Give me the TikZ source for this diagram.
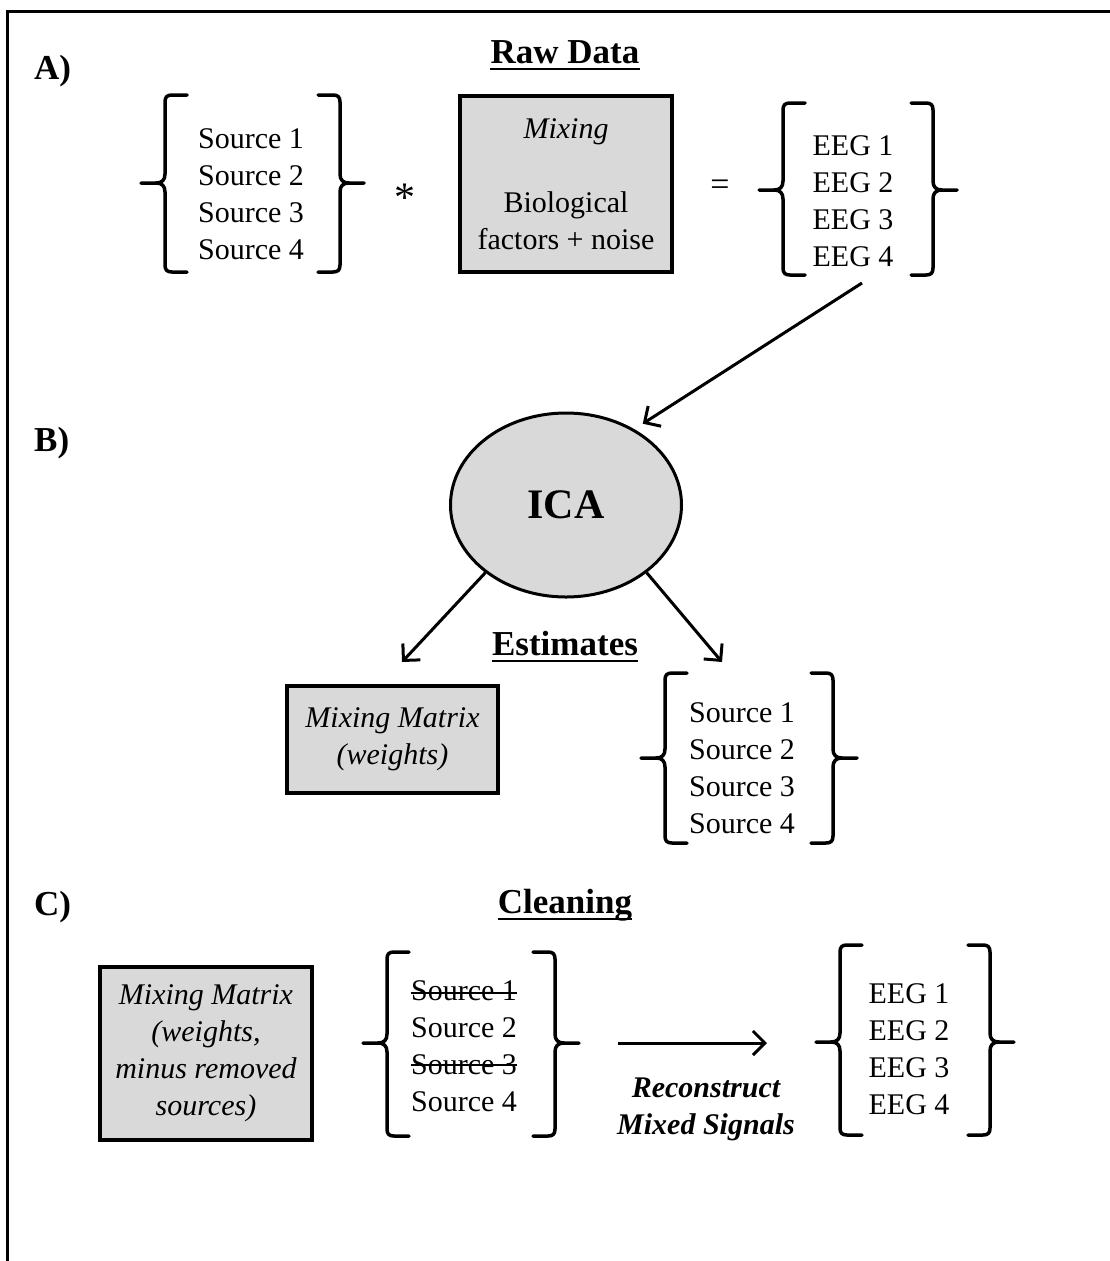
\documentclass[tikz,border=0pt]{standalone}
\usepackage{fontspec}
\setmainfont{Liberation Serif}
\usetikzlibrary{shapes.geometric,arrows.meta}
\definecolor{boxgray}{RGB}{217,217,217}
% #1 left x, #2 right x, #3 top y, #4 bottom y, #5 middle y
\newcommand{\brackpair}[5]{%
 \draw[brk] ({#1+22},#3) -- ({#1+7},#3) .. controls ({#1+2},#3) and (#1,{#3+2}) .. (#1,{#3+7}) -- (#1,{#5-9}) .. controls (#1,{#5-3}) and ({#1-3},#5) .. ({#1-9},#5) -- ({#1-24},#5);
 \draw[brk] ({#1-9},#5) .. controls ({#1-3},#5) and (#1,{#5+3}) .. (#1,{#5+9}) -- (#1,{#4-7}) .. controls (#1,{#4-2}) and ({#1+2},#4) .. ({#1+7},#4) -- ({#1+22},#4);
 \draw[brk] ({#2-22},#3) -- ({#2-7},#3) .. controls ({#2-2},#3) and (#2,{#3+2}) .. (#2,{#3+7}) -- (#2,{#5-9}) .. controls (#2,{#5-3}) and ({#2+3},#5) .. ({#2+9},#5) -- ({#2+24},#5);
 \draw[brk] ({#2+9},#5) .. controls ({#2+3},#5) and (#2,{#5+3}) .. (#2,{#5+9}) -- (#2,{#4-7}) .. controls (#2,{#4-2}) and ({#2-2},#4) .. ({#2-7},#4) -- ({#2-22},#4);
}
\begin{document}
\begin{tikzpicture}[x=1pt,y=-1pt,
  lst/.style={align=center,font=\fontsize{30}{37}\selectfont,inner sep=0pt},
  box/.style={draw,line width=3.2pt,fill=boxgray,align=center,font=\fontsize{30}{37}\selectfont,inner sep=0pt},
  ttl/.style={font=\fontsize{35}{40}\selectfont\bfseries,inner sep=0pt,anchor=base},
  lbl/.style={font=\fontsize{35}{40}\selectfont\bfseries,inner sep=0pt,anchor=base west},
  sym/.style={font=\fontsize{30}{37}\selectfont,inner sep=0pt},
  brk/.style={line width=3.5pt,line cap=round,line join=round},
  arr/.style={line width=3pt,-{Straight Barb[length=12pt,width=24pt]}},
  uln/.style={line width=2.5pt},
  strk/.style={line width=1.6pt}]
\useasboundingbox (0,0) rectangle (1110,1261);
\draw[line width=3pt] (1110,11) -- (7.5,11) -- (7.5,1261);

% labels
\node[lbl] (la) at (34,79) {A)};
\node[lbl] (lb) at (34,451) {B)};
\node[lbl] (lc) at (34,915) {C)};

% A) Raw data
\node[ttl] (raw) at (565,63) {Raw Data};
\draw[uln] ([yshift=-6pt]raw.base west) -- ([yshift=-6pt]raw.base east);
\node[lst] (srcA) at (251,194) {Source 1\\Source 2\\Source 3\\Source 4};
\brackpair{165}{340}{95}{272}{183}
\node[sym,font=\fontsize{42}{48}\selectfont] (ast) at (405,198) {*};
\node[box,minimum width=212,minimum height=176] (mixA) at (566,184) {\textit{Mixing}\\[37pt]Biological\\factors + noise};
\node[sym,font=\fontsize{34}{40}\selectfont] (eq) at (720,188) {=};
\node[lst] (eegA) at (853,201) {EEG 1\\EEG 2\\EEG 3\\EEG 4};
\brackpair{783}{933}{103}{275}{190}

% B) ICA
\node[draw,line width=3pt,fill=boxgray,ellipse,minimum width=231,minimum height=184,inner sep=0pt,font=\fontsize{42}{48}\selectfont\bfseries] (ica) at (566,505) {ICA};
\coordinate (eegAout) at (862,283);
\draw[arr,shorten >=10pt] (eegAout) -- (ica.48);
\node[ttl] (est) at (565,655) {Estimates};
\draw[uln] ([yshift=-6pt]est.base west) -- ([yshift=-6pt]est.base east);
\node[box,minimum width=211,minimum height=107] (mmB) at (392.5,739.5) {\textit{Mixing Matrix}\\\textit{(weights)}};
\node[lst] (srcB) at (742,768) {Source 1\\Source 2\\Source 3\\Source 4};
\brackpair{665}{833}{673}{843}{758}
\coordinate (tipB1) at (402,662);
\coordinate (tipB2) at (722,662);
\draw[arr] (ica.220) -- (tipB1);
\draw[arr] (ica.320) -- (tipB2);

% C) Cleaning
\node[ttl] (cln) at (565,913) {Cleaning};
\draw[uln] ([yshift=-6pt]cln.base west) -- ([yshift=-6pt]cln.base east);
\node[box,minimum width=212,minimum height=173] (mmC) at (206,1053.5) {\textit{Mixing Matrix}\\\textit{(weights,}\\\textit{minus removed}\\\textit{sources)}};
\node[lst] (srcC) at (464,1046) {Source 1\\Source 2\\Source 3\\Source 4};
\coordinate (strike1) at (0,993);
\coordinate (strike3) at (0,1065);
\draw[strk] (srcC.west |- strike1) -- (srcC.east |- strike1);
\draw[strk] (srcC.west |- strike3) -- (srcC.east |- strike3);
\brackpair{387}{555}{952}{1136}{1043}
\coordinate (cA) at (618,1043);
\coordinate (cB) at (767,1043);
\draw[arr] (cA) -- (cB);
\node[align=center,inner sep=0pt,font=\fontsize{30}{37}\selectfont\bfseries\itshape] (rec) at (706,1109) {Reconstruct\\Mixed Signals};
\node[lst] (eegC) at (909,1049) {EEG 1\\EEG 2\\EEG 3\\EEG 4};
\brackpair{840}{990}{945}{1135}{1042}
\end{tikzpicture}
\end{document}
